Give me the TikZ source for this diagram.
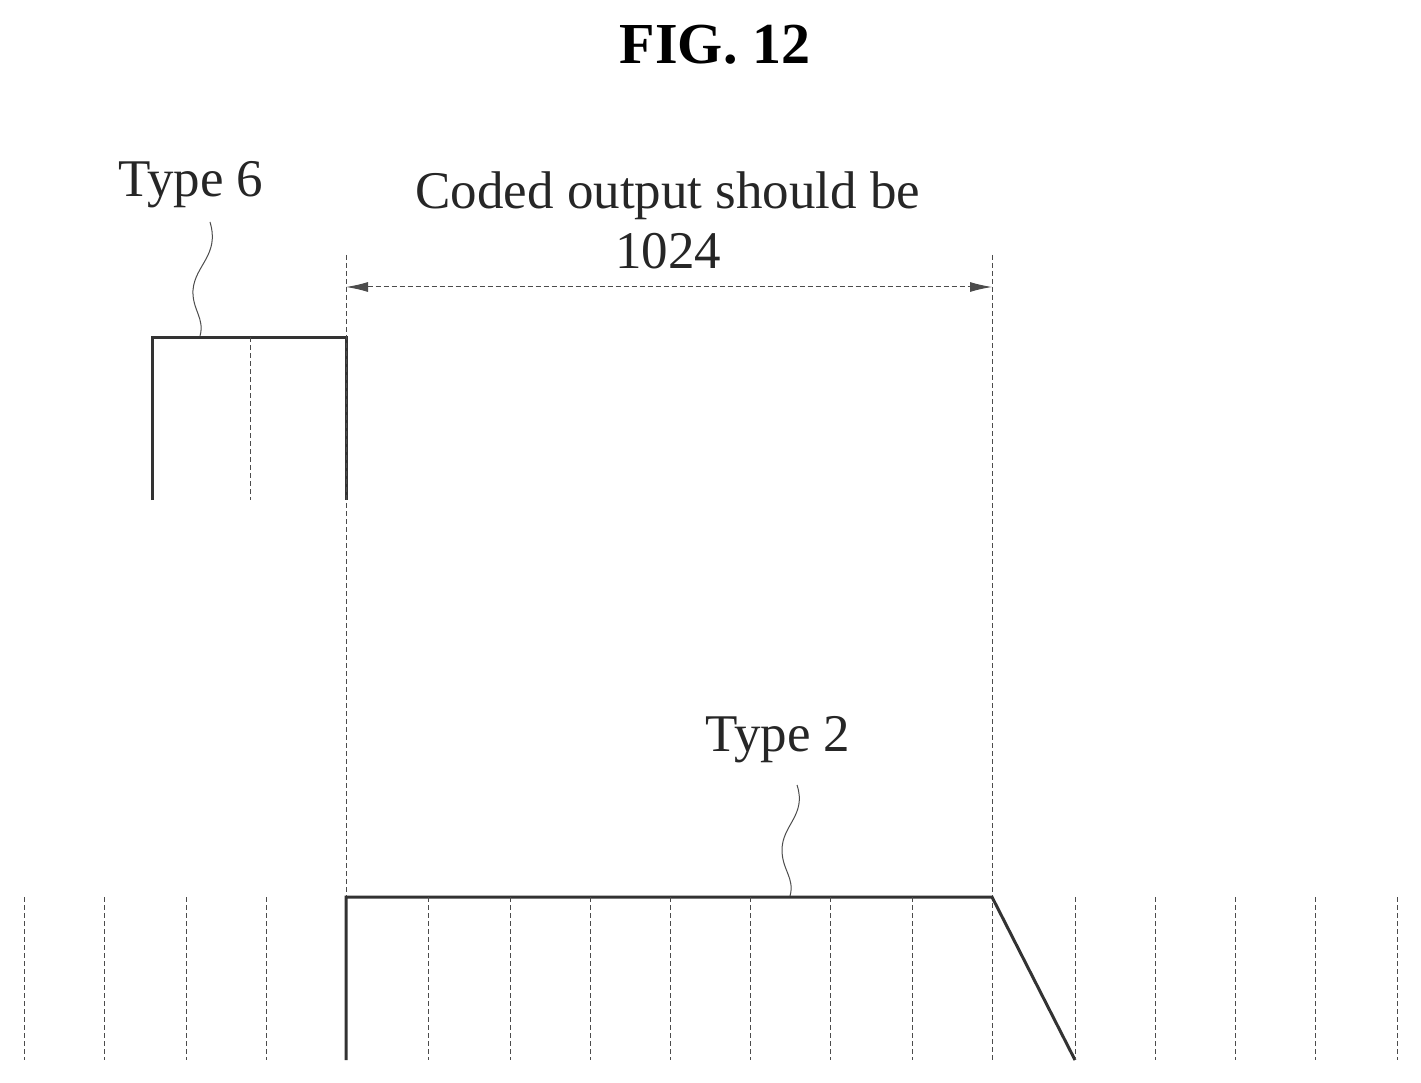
\documentclass[tikz,border=0pt]{standalone}
\usepackage{fontspec}
\setmainfont{Liberation Serif}
\usetikzlibrary{arrows.meta,decorations.pathmorphing}
\begin{document}
\begin{tikzpicture}[x=1pt,y=-1pt,
  thick line/.style={line width=3pt,black!80},
  grid/.style={line width=1pt,dash pattern=on 5pt off 3pt,black!70},
  lab/.style={font=\fontsize{53}{60}\selectfont,text=black!85},
  leader/.style={line width=1pt,black!70}]
\useasboundingbox (0,0) rectangle (1421,1083);
\node[font=\fontsize{58}{64}\selectfont\bfseries] (title) at (715,45) {FIG. 12};
% Type 6
\node[lab] (t6) at (191,185) {Type 6};
\draw[thick line] (152,500) -- (152,337) -- (346,337) -- (346,500);
\draw[grid] (250,337) -- (250,500);
\coordinate (t6a) at (210,222);
\coordinate (t6b) at (200,336);
\draw[leader] (t6a) .. controls (220,255) and (195,265) .. (193,290) .. controls (192,310) and (205,318) .. (t6b);
% dimension
\coordinate (l1) at (346,255); \coordinate (l2) at (346,1060);
\coordinate (r1) at (992,255); \coordinate (r2) at (992,1060);
\draw[grid,line width=0.9pt] (l1) -- (l2);
\draw[grid,line width=0.9pt] (r1) -- (r2);
\coordinate (al) at (346,287); \coordinate (ar) at (992,287);
\draw[grid,{Latex[length=22pt,width=10pt]}-{Latex[length=22pt,width=10pt]}] (al) -- (ar);
\node[lab,align=center] (coded) at (668,220) {Coded output should be\\1024};
% Type 2
\node[lab] (t2) at (778,740) {Type 2};
\coordinate (t2a) at (797,785);
\coordinate (t2b) at (790,896);
\draw[leader] (t2a) .. controls (807,815) and (782,825) .. (782,850) .. controls (782,870) and (795,878) .. (t2b);
\draw[thick line] (346,1060) -- (346,897) -- (992,897) -- (1075,1060);
\foreach \x in {24,104,186,266,428,510,590,670,750,830,912,1075,1155,1235,1315,1397}
  \draw[grid] (\x,897) -- (\x,1060);
\end{tikzpicture}
\end{document}
